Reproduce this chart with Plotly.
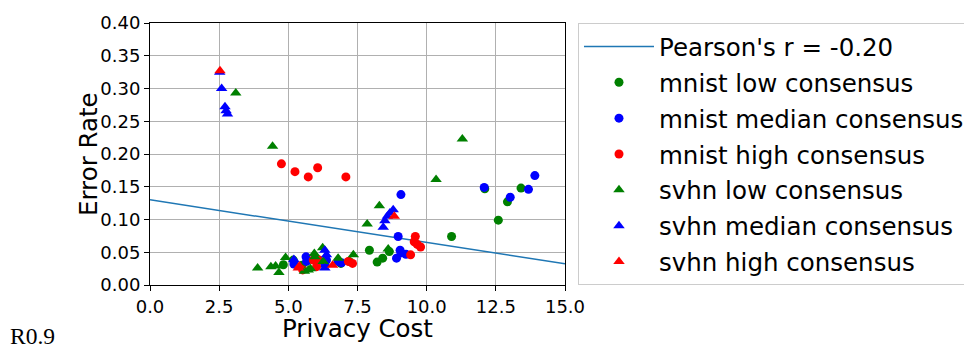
import plotly.graph_objects as go

# Fit line (Pearson)
fit_x = [0.0, 15.0]
fit_intercept = 0.130
fit_slope = -0.0065

mnist_low_x = [4.82, 5.18, 5.5, 6.3, 6.9, 7.2, 7.93, 8.21, 8.41, 8.65, 10.9, 12.1, 12.59, 12.92, 13.41]
mnist_low_y = [0.031, 0.038, 0.030, 0.035, 0.033, 0.036, 0.053, 0.035, 0.041, 0.051, 0.074, 0.147, 0.099, 0.127, 0.148]

mnist_med_x = [5.2, 5.64, 5.66, 6.32, 6.38, 6.8, 6.92, 8.91, 8.97, 9.04, 9.07, 9.07, 9.25, 12.08, 13.02, 13.68, 13.91]
mnist_med_y = [0.032, 0.043, 0.036, 0.031, 0.038, 0.036, 0.034, 0.041, 0.074, 0.053, 0.049, 0.138, 0.047, 0.149, 0.134, 0.146, 0.167]

mnist_high_x = [4.75, 5.24, 5.72, 6.06, 7.08, 5.52, 5.9, 6.02, 6.11, 7.17, 7.32, 9.42, 9.55, 9.59, 9.66, 9.78]
mnist_high_y = [0.185, 0.173, 0.165, 0.179, 0.165, 0.023, 0.038, 0.028, 0.038, 0.036, 0.033, 0.046, 0.066, 0.074, 0.062, 0.058]

svhn_low_x = [3.1, 4.43, 3.89, 4.37, 4.54, 4.66, 4.90, 5.58, 5.72, 5.8, 5.94, 5.96, 6.24, 6.26, 6.8, 7.35, 7.85, 8.29, 8.61, 10.34, 11.29]
svhn_low_y = [0.293, 0.212, 0.026, 0.028, 0.029, 0.019, 0.042, 0.021, 0.023, 0.025, 0.048, 0.043, 0.057, 0.036, 0.041, 0.046, 0.093, 0.121, 0.055, 0.161, 0.223]

svhn_med_x = [2.52, 2.59, 2.71, 2.75, 2.8, 5.2, 6.32, 6.38, 6.32, 8.43, 8.49, 8.58, 8.67, 8.79]
svhn_med_y = [0.325, 0.300, 0.272, 0.266, 0.261, 0.039, 0.053, 0.046, 0.026, 0.088, 0.098, 0.105, 0.110, 0.115]

svhn_high_x = [2.53, 5.36, 5.4, 6.6, 8.83]
svhn_high_y = [0.327, 0.026, 0.029, 0.030, 0.105]

x_ticks = [0.0, 2.5, 5.0, 7.5, 10.0, 12.5, 15.0]
y_ticks = [0.00, 0.05, 0.10, 0.15, 0.20, 0.25, 0.30, 0.35, 0.40]

fig = go.Figure()
fig.add_trace(go.Scatter(x=fit_x, y=[fit_intercept + fit_slope * v for v in fit_x],
                         mode="lines", line=dict(color="#1f77b4", width=1.5),
                         name="Pearson's r = -0.20", legendgroup="g0"))

series = [
    ("mnist low consensus", mnist_low_x, mnist_low_y, "green", "circle"),
    ("mnist median consensus", mnist_med_x, mnist_med_y, "blue", "circle"),
    ("mnist high consensus", mnist_high_x, mnist_high_y, "red", "circle"),
    ("svhn low consensus", svhn_low_x, svhn_low_y, "green", "triangle-up"),
    ("svhn median consensus", svhn_med_x, svhn_med_y, "blue", "triangle-up"),
    ("svhn high consensus", svhn_high_x, svhn_high_y, "red", "triangle-up"),
]
for i, (name, xs, ys, col, sym) in enumerate(series):
    fig.add_trace(go.Scatter(x=xs, y=ys, mode="markers", name=name, legendgroup=f"g{i+1}",
                             marker=dict(color=col, symbol=sym,
                                         size=9 if sym == "circle" else 10,
                                         line=dict(width=0))))

axis_common = dict(showline=True, linecolor="black", linewidth=1, mirror=True,
                   ticks="outside", ticklen=5, tickcolor="black",
                   showgrid=True, gridcolor="#b0b0b0", gridwidth=1, zeroline=False,
                   tickfont=dict(family="DejaVu Sans", size=18, color="black"))

fig.update_xaxes(range=[0, 15], tickvals=x_ticks, ticktext=[f"{v:.1f}" for v in x_ticks],
                 **axis_common)
fig.update_yaxes(range=[0, 0.40], tickvals=y_ticks, ticktext=[f"{v:.2f}" for v in y_ticks],
                 **axis_common)

title_font = dict(family="DejaVu Sans", size=24.5, color="black")

# Figure is wider than the window so the legend runs off the right edge, like the reference.
fig.update_layout(
    width=1010, height=352,
    margin=dict(l=150, r=445, t=15, b=67),
    plot_bgcolor="white", paper_bgcolor="white",
    font=dict(family="DejaVu Sans", color="black"),
    legend=dict(x=1.0313, y=1.0, xanchor="left", yanchor="top",
                bordercolor="#cccccc", borderwidth=1, bgcolor="white",
                font=dict(family="DejaVu Sans", size=24.5, color="black"),
                tracegroupgap=1, itemwidth=70),
    annotations=[
        dict(text="Privacy Cost", x=0.5, y=-0.167, xref="paper", yref="paper",
             xanchor="center", yanchor="middle", showarrow=False, font=title_font, borderpad=0),
        dict(text="Error Rate", x=-0.1494, y=0.5, xref="paper", yref="paper",
             xanchor="center", yanchor="middle", showarrow=False, textangle=-90, font=title_font),
        dict(text="R0.9", x=-0.342, y=-0.1963, xref="paper", yref="paper",
             xanchor="left", yanchor="middle", showarrow=False,
             font=dict(family="Liberation Serif", size=23.5, color="black")),
    ],
)

post = ("document.documentElement.style.overflow='hidden';"
        "document.body.style.overflow='hidden';"
        "document.body.style.margin='0';")
fig.write_html("out.html", post_script=post, config={"displayModeBar": False})
